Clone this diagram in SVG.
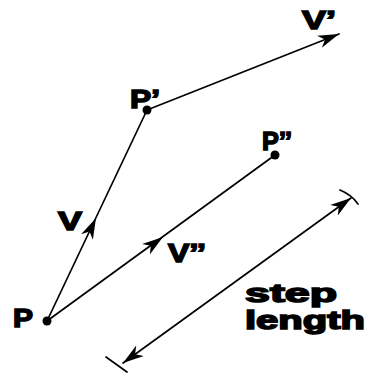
<svg xmlns="http://www.w3.org/2000/svg" width="367" height="376" viewBox="0 0 367 376">
<defs>
<style>
.ln{stroke:#000;stroke-width:1.7;fill:none;stroke-linecap:round}
.hd{stroke:none;fill:none}
.lbl{font-family:"Liberation Sans",Arial,sans-serif;font-weight:bold;font-size:26px;fill:#000;stroke:#000;stroke-width:1.5}
.sl{font-size:25px}
.dot{fill:#000}
.ah{fill:#000}
</style>
<marker id="arr" viewBox="0 0 21 14" refX="21" refY="7" markerWidth="21" markerHeight="14" markerUnits="userSpaceOnUse" orient="auto-start-reverse">
<path d="M0,0.5 L21,7 L0,13.5 L6,7 Z" class="ah"/>
</marker>
</defs>
<rect width="367" height="376" fill="#fff"/>
<g id="connectors">
<line class="ln" x1="47" y1="321" x2="147" y2="110"/>
<line class="ln" x1="147" y1="110" x2="339" y2="34" marker-end="url(#arr)"/>
<line class="ln" x1="47" y1="321" x2="275" y2="155"/>
<path class="hd" d="M47,321 L96,218" marker-end="url(#arr)"/>
<path class="hd" d="M47,321 L163,237" marker-end="url(#arr)"/>
<line class="ln" x1="123" y1="363" x2="351" y2="198" marker-start="url(#arr)" marker-end="url(#arr)"/>
<line class="ln" x1="106" y1="357" x2="127" y2="372"/>
<path class="ln" d="M340,190 Q352,195 358,204"/>
</g>
<g id="P">
<circle class="dot" cx="47" cy="321" r="4.5"/>
<text class="lbl" x="13" y="327" textLength="20" lengthAdjust="spacingAndGlyphs">P</text>
</g>
<g id="P1">
<circle class="dot" cx="147" cy="110" r="4.5"/>
<text class="lbl" x="130" y="108" textLength="30" lengthAdjust="spacingAndGlyphs">P’</text>
</g>
<g id="P2">
<circle class="dot" cx="275" cy="155" r="4.5"/>
<text class="lbl" x="262" y="150" textLength="30" lengthAdjust="spacingAndGlyphs">P’’</text>
</g>
<g id="V">
<text class="lbl" x="58" y="230" textLength="24" lengthAdjust="spacingAndGlyphs">V</text>
</g>
<g id="V1">
<text class="lbl" x="302" y="29" textLength="34" lengthAdjust="spacingAndGlyphs">V’</text>
</g>
<g id="V2">
<text class="lbl" x="168" y="262" textLength="38" lengthAdjust="spacingAndGlyphs">V’’</text>
</g>
<g id="steplength">
<text class="lbl sl" x="245" y="302" textLength="92" lengthAdjust="spacingAndGlyphs">step</text>
<text class="lbl sl" x="245" y="329" textLength="120" lengthAdjust="spacingAndGlyphs">length</text>
</g>
</svg>
